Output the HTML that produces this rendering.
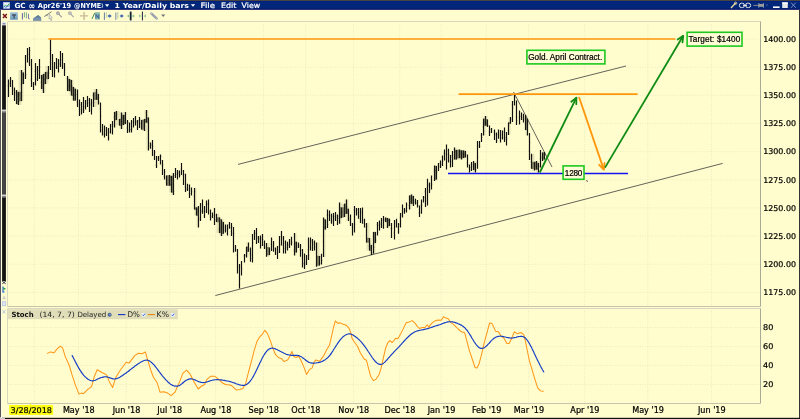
<!DOCTYPE html>
<html lang="en"><head><meta charset="utf-8"><title>GC Apr26'19 @NYME - 1 Year/Daily bars</title>
<style>html,body{margin:0;padding:0;background:#fffdcd;overflow:hidden}svg{display:block}.ax{font-family:"DejaVu Sans","Liberation Sans",sans-serif;font-size:7.9px;fill:#000;stroke:#000;stroke-width:0.22px}.tt{font-family:"DejaVu Sans","Liberation Sans",sans-serif;font-size:7px;font-weight:bold;fill:#fff}.mn{font-family:"DejaVu Sans","Liberation Sans",sans-serif;font-size:7.4px;fill:#fff;stroke:#fff;stroke-width:0.2px}.an{font-family:"Liberation Sans",sans-serif;font-size:8.2px;fill:#000;stroke:#000;stroke-width:0.22px}.st{font-family:"DejaVu Sans","Liberation Sans",sans-serif;font-size:7.2px;fill:#222}</style></head><body>
<svg width="800" height="419" viewBox="0 0 800 419">
<rect x="0" y="0" width="800" height="419" fill="#fffdcd"/>
<rect x="0" y="0" width="800" height="1" fill="#444"/>
<rect x="0" y="1" width="800" height="8" fill="#00277a"/><rect x="0" y="1" width="800" height="1" fill="#002080"/><rect x="0" y="8.8" width="800" height="1" fill="#000064"/>
<rect x="0" y="9.8" width="1" height="409.2" fill="#555"/>
<rect x="799" y="9.8" width="1" height="409.2" fill="#333"/>
<rect x="0" y="417" width="5" height="2" fill="#c8c8c8"/><rect x="5" y="417.8" width="795" height="1.2" fill="#111"/>
<g id="title">
<rect x="3.2" y="2.2" width="6.6" height="6.4" fill="#e8eef8"/><path d="M3.6 7.4 L5.4 5.2 L7 6.4 L9.4 3.4" stroke="#2a9a3a" stroke-width="0.9" fill="none"/><path d="M3.6 6 L5.6 7.4 L9.4 5.6" stroke="#3a6ad8" stroke-width="0.8" fill="none"/>
<text class="tt" x="14.4" y="8.2" textLength="11.3" lengthAdjust="spacingAndGlyphs">GC</text>
<text class="tt" x="28.6" y="9.1" textLength="6.6" lengthAdjust="spacingAndGlyphs" style="font-size:9.4px;font-weight:bold">∞</text>
<text class="tt" x="37.8" y="8.2" textLength="33.4" lengthAdjust="spacingAndGlyphs">Apr26'19</text>
<text class="tt" x="74" y="8.2" textLength="27.2" lengthAdjust="spacingAndGlyphs">@NYME</text>
<path d="M101.9 3.4 q1.6 2.2 0 4.6" stroke="#fff" stroke-width="0.8" fill="none"/>
<path d="M105 4.3 h4.2 l-2.1 2.6 z" fill="#fff"/>
<text class="tt" x="114.5" y="8.2" textLength="74.5" lengthAdjust="spacingAndGlyphs">1 Year/Daily bars</text>
<path d="M190.8 4.2 h4.4 l-2.2 2.6 z" fill="#fff"/>
<text class="mn" x="200.6" y="8.3" textLength="14.4" lengthAdjust="spacingAndGlyphs">File</text>
<text class="mn" x="221" y="8.3" textLength="15.4" lengthAdjust="spacingAndGlyphs">Edit</text>
<text class="mn" x="241.6" y="8.3" textLength="18.6" lengthAdjust="spacingAndGlyphs">View</text>
<path d="M731 8 L735.6 3" stroke="#f0dca0" stroke-width="1.3"/><circle cx="735.6" cy="3.2" r="1.2" fill="none" stroke="#f0dca0" stroke-width="0.8"/>
<rect x="739.4" y="3.2" width="5" height="4.4" rx="2.1" fill="none" stroke="#e8e8e8" stroke-width="1"/><rect x="745.6" y="3.2" width="5" height="4.4" rx="2.1" fill="none" stroke="#e8e8e8" stroke-width="1"/><path d="M743 5.4 h4" stroke="#e8e8e8" stroke-width="1"/>
<path d="M753.4 5.4 h5" stroke="#9a9684" stroke-width="0.9"/><path d="M758.8 3.2 v4.4 M763.4 3.2 v4.4" stroke="#b8b8b8" stroke-width="0.9"/><rect x="759" y="4" width="4.2" height="2.8" fill="#9c9c9c"/>
<path d="M766 4.8 h1.8 l-0.9 1 z" fill="#aab"/>
<rect x="773" y="6.4" width="6.6" height="1.6" fill="#fff"/>
<rect x="782.2" y="2.4" width="5.6" height="5.6" fill="#e8e8e8"/><rect x="782.2" y="2.4" width="5.6" height="1.4" fill="#fff"/>
<path d="M791 2.6 l4.8 5.2 M795.8 2.6 l-4.8 5.2" stroke="#9aa6d0" stroke-width="0.8"/>
</g>
<defs><linearGradient id="tg" x1="0" y1="0" x2="0" y2="1"><stop offset="0" stop-color="#a2c4de"/><stop offset="1" stop-color="#6c9abe"/></linearGradient><linearGradient id="mg" x1="0" y1="0" x2="0" y2="1"><stop offset="0" stop-color="#4f6a86"/><stop offset="1" stop-color="#86a4c0"/></linearGradient></defs>
<g id="toolbar">
<path d="M2.9 14 l3.9 4 M6.8 14 l-3.9 4" stroke="#7c1018" stroke-width="1.5"/>
<rect x="10.1" y="12.2" width="7.7" height="7.6" fill="url(#tg)"/><path d="M12 15 h4.1 M14.1 15 v3.6" stroke="#48525e" stroke-width="1.4"/>
<path d="M22.4 13.1 v6.4" stroke="#5050a0" stroke-width="0.9"/><path d="M24.4 12.2 v5.2 M26.4 12.4 v6" stroke="#66a080" stroke-width="0.9"/><path d="M28.5 13.9 v4.8 h1.2" stroke="#6a6ab0" stroke-width="0.9" fill="none"/>
<path d="M33 20.4 v-1.8 l2.8 -2 l2.4 -1.7 l3 2.6 v2.9 z" fill="url(#mg)"/><path d="M33 20.3 h8.3" stroke="#4a6078" stroke-width="0.6"/>
<path d="M44.2 16.6 l7.4 -4.9" stroke="#5a6068" stroke-width="0.8" fill="none"/><path d="M46.4 14.6 l1.2 1.6" stroke="#5a6068" stroke-width="0.7"/><path d="M49.2 14.2 l3 3.4 l-1.3 0.2 l0.9 2.4 l-0.9 0.4 l-1 -2.4 l-0.9 0.9 z" fill="#eeeeea" stroke="#8a8a88" stroke-width="0.5"/>
<circle cx="57.9" cy="13.2" r="1.6" fill="#b4b4b4" stroke="#9a9aa0" stroke-width="0.6"/><path d="M59 14.4 l2.5 2.5" stroke="#9a9aa4" stroke-width="1.2" stroke-linecap="round"/>
<circle cx="69.9" cy="13.2" r="1.6" fill="#c0c0bc" stroke="#aaaaac" stroke-width="0.6"/><path d="M71 14.4 l2.4 2.3" stroke="#aaaab0" stroke-width="1.2" stroke-linecap="round"/>
<path d="M80 15.9 h8.1 M84.1 12 v7.9" stroke="#c9b998" stroke-width="1.4"/>
<path d="M92 18.9 l2.8 -6" stroke="#3f8a52" stroke-width="1" fill="none"/><rect x="95" y="12.2" width="4.9" height="7.4" fill="#8cbcac"/><path d="M96 18.4 v-4 l2.8 4 v-4" stroke="#2c4c9c" stroke-width="0.8" fill="none"/>
<path d="M104.4 12.5 v7.4" stroke="#6878a4" stroke-width="1"/><path d="M106.3 12 v5.8" stroke="#8ab89a" stroke-width="0.6"/><path d="M107.4 16 l2.2 -1.8 l2.2 1.8 l-2.2 1.8 z" fill="#4a6cb4"/>
<path d="M115.8 12.5 v7.4" stroke="#7a88b0" stroke-width="1"/><path d="M117.8 12 v6.6" stroke="#8ab89a" stroke-width="0.7"/><path d="M119.6 16 l2.1 -1.8 l2.1 1.8 l-2.1 1.8 z" fill="#4a6cb4"/>
<path d="M126.8 16 l2.4 -1.8 v3.6 z M135 16 l-2.4 -1.8 v3.6 z" fill="#8cc08c"/><path d="M130.7 11.6 v8.8" stroke="#12223c" stroke-width="1.8"/>
<path d="M141.2 16 l-2.2 -1.8 v3.6 z M143.7 16 l2.2 -1.8 v3.6 z" fill="#9ac89a"/><path d="M142.4 11.6 v8.8" stroke="#12223c" stroke-width="1"/>
<path d="M151.2 13.4 l5.6 5.2" stroke="#9aa0ae" stroke-width="2.4" stroke-linecap="round"/><path d="M150.4 12.4 l1.4 1.4 M156.4 18.2 l1.2 1.2" stroke="#fffdcd" stroke-width="0.7"/>
<path d="M161 14.5 h4.4 l-2.2 2.6 z" fill="#77777e"/>
</g>
<g id="grid" stroke="#dedcbc" stroke-width="0.7" stroke-dasharray="0.8 1.7" fill="none">
<path d="M34.4 21.5 V306.5 M34.4 308.5 V403.5"/>
<path d="M78.5 21.5 V306.5 M78.5 308.5 V403.5"/>
<path d="M126.2 21.5 V306.5 M126.2 308.5 V403.5"/>
<path d="M169.5 21.5 V306.5 M169.5 308.5 V403.5"/>
<path d="M215.6 21.5 V306.5 M215.6 308.5 V403.5"/>
<path d="M263.5 21.5 V306.5 M263.5 308.5 V403.5"/>
<path d="M305.6 21.5 V306.5 M305.6 308.5 V403.5"/>
<path d="M353.5 21.5 V306.5 M353.5 308.5 V403.5"/>
<path d="M399.7 21.5 V306.5 M399.7 308.5 V403.5"/>
<path d="M441.2 21.5 V306.5 M441.2 308.5 V403.5"/>
<path d="M486.3 21.5 V306.5 M486.3 308.5 V403.5"/>
<path d="M528.6 21.5 V306.5 M528.6 308.5 V403.5"/>
<path d="M584.6 21.5 V306.5 M584.6 308.5 V403.5"/>
<path d="M647.8 21.5 V306.5 M647.8 308.5 V403.5"/>
<path d="M711.5 21.5 V306.5 M711.5 308.5 V403.5"/>
<path d="M7.5 292.4 H762.5"/>
<path d="M7.5 264.2 H762.5"/>
<path d="M7.5 236.1 H762.5"/>
<path d="M7.5 207.9 H762.5"/>
<path d="M7.5 179.8 H762.5"/>
<path d="M7.5 151.7 H762.5"/>
<path d="M7.5 123.5 H762.5"/>
<path d="M7.5 95.3 H762.5"/>
<path d="M7.5 67.2 H762.5"/>
<path d="M7.5 39.1 H762.5"/>
<path d="M7.5 384.5 H762.5"/>
<path d="M7.5 365.5 H762.5"/>
<path d="M7.5 346.5 H762.5"/>
<path d="M7.5 327.5 H762.5"/>
</g>
<g id="frames" stroke="#c2c2aa" stroke-width="1" fill="none">
<path d="M7.5 306.5 V21.5 H760.5" stroke="#d9d8bf"/>
<path d="M760.5 21.5 V306.5" stroke="#a9a998"/>
<path d="M7.5 306.5 H760.5" stroke="#c6c5ab"/>
<path d="M7.5 403.5 V308.5 H760.5" stroke="#d9d8bf"/>
<path d="M760.5 308.5 V403.5" stroke="#a9a998"/>
<path d="M7.5 403.5 H760.5" stroke="#c6c5ab"/>
</g>
<rect x="1" y="9.8" width="1" height="408" fill="#fffee2"/>
<rect x="2.1" y="25.2" width="3.8" height="256" fill="#141414"/>
<rect x="2.1" y="112.6" width="3.8" height="82" fill="#454545"/>
<rect x="2.1" y="109.7" width="3.8" height="3" fill="#8c8c8c"/><rect x="2.1" y="109.7" width="3.8" height="1.4" fill="#d4d4d4"/>
<rect x="2.1" y="194.6" width="3.8" height="3" fill="#8c8c8c"/><rect x="2.1" y="194.6" width="3.8" height="1.4" fill="#d4d4d4"/>
<rect x="2.2" y="21.8" width="3.6" height="3.4" fill="#dfe3ee"/><path d="M2.8 23 q1.2 1.4 2.4 0 v1.2 h-2.4 z" fill="#23366e"/>
<path d="M2.3 281.4 l3.4 2.4 M5.7 281.4 l-3.4 2.4" stroke="#2a3350" stroke-width="0.9"/>
<path d="M3 286.6 v5.6" stroke="#1f62d8" stroke-width="1.1"/><path d="M3.4 287.2 l2.6 1.5 l-2.6 1.5 z" fill="#23a04a"/><path d="M2.4 291.4 h2.2 v1 h-2.2 z" fill="#2a6ae0"/>
<path d="M2.2 299.2 h3.8 l-1.9 -3.9 z" fill="#cfcfc6"/>
<rect x="2.6" y="301.8" width="3.2" height="4" fill="#dfe4f4" stroke="#b4bfe4" stroke-width="0.7"/>
<path d="M2.6 310.2 l3 3.2 M5.6 310.2 l-3 3.2" stroke="#b0bce0" stroke-width="0.9"/>
<g id="ylabels">
<text class="ax" x="763.2" y="295.1" textLength="32.8" lengthAdjust="spacingAndGlyphs">1175.00</text>
<text class="ax" x="763.2" y="267.0" textLength="32.8" lengthAdjust="spacingAndGlyphs">1200.00</text>
<text class="ax" x="763.2" y="238.8" textLength="32.8" lengthAdjust="spacingAndGlyphs">1225.00</text>
<text class="ax" x="763.2" y="210.7" textLength="32.8" lengthAdjust="spacingAndGlyphs">1250.00</text>
<text class="ax" x="763.2" y="182.6" textLength="32.8" lengthAdjust="spacingAndGlyphs">1275.00</text>
<text class="ax" x="763.2" y="154.4" textLength="32.8" lengthAdjust="spacingAndGlyphs">1300.00</text>
<text class="ax" x="763.2" y="126.2" textLength="32.8" lengthAdjust="spacingAndGlyphs">1325.00</text>
<text class="ax" x="763.2" y="98.1" textLength="32.8" lengthAdjust="spacingAndGlyphs">1350.00</text>
<text class="ax" x="763.2" y="69.9" textLength="32.8" lengthAdjust="spacingAndGlyphs">1375.00</text>
<text class="ax" x="763.2" y="41.8" textLength="32.8" lengthAdjust="spacingAndGlyphs">1400.00</text>
<text class="ax" x="763" y="387.3" textLength="10.3" lengthAdjust="spacingAndGlyphs">20</text>
<text class="ax" x="763" y="368.3" textLength="10.3" lengthAdjust="spacingAndGlyphs">40</text>
<text class="ax" x="763" y="349.3" textLength="10.3" lengthAdjust="spacingAndGlyphs">60</text>
<text class="ax" x="763" y="330.3" textLength="10.3" lengthAdjust="spacingAndGlyphs">80</text>
</g>
<g id="xlabels">
<text class="ax" x="78.8" y="413.4" text-anchor="middle" style="font-size:8.1px">May '18</text>
<text class="ax" x="126.5" y="413.4" text-anchor="middle" style="font-size:8.1px">Jun '18</text>
<text class="ax" x="169.8" y="413.4" text-anchor="middle" style="font-size:8.1px">Jul '18</text>
<text class="ax" x="215.9" y="413.4" text-anchor="middle" style="font-size:8.1px">Aug '18</text>
<text class="ax" x="263.8" y="413.4" text-anchor="middle" style="font-size:8.1px">Sep '18</text>
<text class="ax" x="305.9" y="413.4" text-anchor="middle" style="font-size:8.1px">Oct '18</text>
<text class="ax" x="353.8" y="413.4" text-anchor="middle" style="font-size:8.1px">Nov '18</text>
<text class="ax" x="400.0" y="413.4" text-anchor="middle" style="font-size:8.1px">Dec '18</text>
<text class="ax" x="441.5" y="413.4" text-anchor="middle" style="font-size:8.1px">Jan '19</text>
<text class="ax" x="486.6" y="413.4" text-anchor="middle" style="font-size:8.1px">Feb '19</text>
<text class="ax" x="528.9" y="413.4" text-anchor="middle" style="font-size:8.1px">Mar '19</text>
<text class="ax" x="584.9" y="413.4" text-anchor="middle" style="font-size:8.1px">Apr '19</text>
<text class="ax" x="648.1" y="413.4" text-anchor="middle" style="font-size:8.1px">May '19</text>
<text class="ax" x="711.8" y="413.4" text-anchor="middle" style="font-size:8.1px">Jun '19</text>
<rect x="9.2" y="405.1" width="43.9" height="9.8" rx="0.8" fill="#ffff14"/>
<path d="M29 405.6 l1.6 -1.8 l1.6 1.8 z" fill="#ffff1e"/>
<text class="ax" x="10.6" y="413.4" textLength="41.4" lengthAdjust="spacingAndGlyphs">3/28/2018</text>
</g>
<rect x="8" y="309.2" width="169.8" height="10" fill="#e0deb8"/>
<text class="st" x="11.4" y="317.4" textLength="22.2" lengthAdjust="spacingAndGlyphs" style="font-weight:bold;fill:#111">Stoch</text>
<text class="st" x="39.4" y="317.4" textLength="35.4" lengthAdjust="spacingAndGlyphs">(14, 7, 7)</text>
<text class="st" x="77.4" y="317.4" textLength="28.8" lengthAdjust="spacingAndGlyphs">Delayed</text>
<circle cx="109.6" cy="314.8" r="1.7" fill="#4f74b4" stroke="#2a3a66" stroke-width="0.5"/><circle cx="110" cy="314.3" r="0.6" fill="#a8c4ec"/>
<path d="M118 314.6 h7.4" stroke="#1432c4" stroke-width="1.1"/>
<text class="st" x="127.4" y="317.4" textLength="12.4" lengthAdjust="spacingAndGlyphs" style="font-size:7.8px">D%</text>
<rect x="141.8" y="313" width="3.6" height="3.6" fill="#eef2fb"/><path d="M142.4 314.8 l1 1 l1.6 -2.2" stroke="#1f55d8" stroke-width="0.9" fill="none"/>
<path d="M147.8 314.6 h7.2" stroke="#e8860a" stroke-width="1.1"/>
<text class="st" x="156.6" y="317.4" textLength="12.4" lengthAdjust="spacingAndGlyphs" style="font-size:7.8px">K%</text>
<rect x="171" y="313" width="3.6" height="3.6" fill="#eef2fb"/><path d="M171.6 314.8 l1 1 l1.6 -2.2" stroke="#1f55d8" stroke-width="0.9" fill="none"/>
<g stroke="#3c3c3c" stroke-width="0.8" fill="none">
<path d="M215.4 295.5 L722.6 163.4"/>
<path d="M238 164.4 L626 66"/>
<path d="M513.6 92 L552 167"/>
<path d="M586 180.6 l2 0.8"/>
</g>
<g id="bars" stroke="#101010" stroke-width="1.18" fill="none">
<path d="M8.5 79.4V97.0M10.5 77.0V87.0M12.5 80.0V95.0M14.5 87.5V101.0M16.5 90.0V104.0M18.5 92.0V105.0M21.5 70.0V101.0M23.5 72.5V84.0M25.5 55.0V79.0M27.5 48.0V62.5M29.5 47.0V66.0M31.5 59.0V87.0M33.5 82.0V90.0M35.5 63.0V85.6M37.5 66.0V81.0M39.5 59.0V79.0M41.5 75.0V89.0M43.5 74.0V93.0M45.5 72.0V84.0M48.5 66.0V79.0M50.5 39.4V70.0M52.5 54.0V77.0M54.5 62.0V77.5M56.5 58.0V69.0M58.5 59.0V72.5M60.5 51.0V67.0M62.5 53.0V69.0M64.5 63.0V76.0M67.5 76.0V91.0M69.5 79.0V91.0M71.5 80.0V95.6M73.5 87.0V100.6M75.5 88.7V100.6M77.5 89.4V107.0M79.5 99.4V116.0M81.5 102.0V114.4M83.5 97.0V113.0M85.5 100.0V109.4M87.5 96.0V107.0M89.5 98.0V112.0M91.5 99.0V114.4M93.5 92.5V107.0M96.5 89.0V99.7M98.5 94.0V104.4M100.5 102.5V132.5M102.5 124.0V135.6M104.5 125.6V137.5M106.5 127.0V136.0M108.5 128.0V140.6M110.5 124.0V133.5M112.5 121.0V134.4M114.5 112.0V127.5M116.5 111.0V120.0M119.5 119.0V125.6M121.5 112.5V129.0M123.5 115.0V125.0M125.5 112.0V124.0M127.5 120.0V133.0M129.5 122.5V132.5M131.5 120.0V132.5M133.5 118.0V127.5M135.5 116.0V125.6M137.5 120.0V130.0M139.5 117.0V128.0M141.5 120.0V129.4M144.5 119.0V131.0M146.5 110.0V122.5M148.5 117.5V150.6M150.5 142.5V148.7M152.5 140.0V156.0M154.5 150.0V160.0M156.5 156.0V168.0M158.5 156.0V161.0M160.5 154.4V164.4M162.5 160.0V175.0M164.5 169.0V179.4M166.5 175.6V185.6M169.5 175.0V185.6M171.5 176.0V192.5M173.5 173.0V195.0M175.5 168.0V178.0M177.5 170.0V179.4M179.5 170.6V177.5M181.5 163.0V175.0M183.5 170.0V185.0M185.5 173.7V192.0M187.5 183.7V191.0M189.5 184.4V198.0M191.5 187.5V195.6M194.5 188.0V209.4M196.5 207.5V215.6M198.5 206.0V227.5M200.5 203.0V221.0M202.5 199.4V213.7M204.5 206.0V218.0M206.5 200.6V213.0M208.5 199.4V214.4M210.5 209.4V220.6M212.5 212.5V218.0M214.5 208.0V225.0M216.5 213.7V222.0M219.5 217.5V233.0M221.5 219.4V236.0M223.5 222.0V233.7M225.5 224.4V232.5M227.5 224.4V235.6M229.5 222.0V228.7M231.5 223.0V236.0M233.5 227.0V252.4M235.5 245.0V251.7M237.5 249.0V273.6M239.5 264.0V288.6M241.5 261.0V275.5M244.5 254.0V262.4M246.5 246.7V257.4M248.5 242.4V251.7M250.5 247.4V261.7M252.5 234.0V262.4M254.5 230.0V240.0M256.5 228.0V244.0M258.5 236.0V243.0M260.5 235.5V248.6M262.5 234.0V246.0M264.5 240.5V249.0M266.5 243.0V256.7M269.5 247.4V255.0M271.5 237.4V251.0M273.5 241.0V251.7M275.5 247.4V255.0M277.5 246.0V259.0M279.5 236.0V253.0M281.5 231.0V245.5M283.5 236.0V253.6M285.5 240.5V253.6M287.5 241.7V250.5M289.5 239.0V248.0M291.5 236.7V245.5M294.5 233.0V255.5M296.5 241.7V252.4M298.5 242.4V248.0M300.5 244.0V256.7M302.5 249.0V267.4M304.5 253.6V269.0M306.5 255.0V265.0M308.5 237.4V260.0M310.5 237.4V250.5M312.5 239.0V251.0M314.5 240.5V250.5M316.5 242.4V266.7M319.5 256.0V265.5M321.5 253.7V264.4M323.5 217.5V257.0M325.5 219.4V229.4M327.5 209.4V228.0M329.5 210.6V221.0M331.5 213.7V223.7M333.5 213.0V226.0M335.5 212.0V221.0M337.5 214.4V225.0M339.5 202.5V223.7M341.5 207.5V218.0M344.5 203.7V217.0M346.5 199.4V213.7M348.5 208.7V221.0M350.5 214.4V226.0M352.5 223.0V235.6M354.5 206.0V232.5M356.5 208.0V215.6M358.5 208.0V218.7M360.5 208.0V223.0M362.5 207.5V223.7M364.5 218.7V227.5M366.5 223.0V242.5M369.5 238.0V250.6M371.5 245.0V255.0M373.5 232.0V253.7M375.5 232.0V243.0M377.5 222.0V235.6M379.5 220.6V230.6M381.5 218.0V228.0M383.5 216.0V228.7M385.5 217.5V222.0M387.5 218.0V228.0M389.5 218.7V226.0M391.5 223.0V238.0M394.5 220.0V239.4M396.5 218.7V227.5M398.5 223.0V233.7M400.5 213.0V227.5M402.5 204.4V217.5M404.5 208.0V213.7M406.5 202.5V212.5M409.5 195.6V209.4M411.5 194.4V203.7M413.5 196.0V206.0M415.5 198.7V204.4M417.5 200.0V207.5M419.5 205.6V217.0M421.5 199.4V213.7M423.5 196.0V202.5M425.5 188.0V207.0M427.5 178.7V205.6M429.5 182.5V193.0M431.5 175.6V189.4M434.5 165.6V181.0M436.5 166.0V179.4M438.5 163.0V171.0M440.5 160.6V168.0M442.5 155.6V166.0M444.5 149.4V160.6M446.5 144.4V169.4M448.5 148.7V162.5M450.5 155.0V167.5M452.5 151.0V167.0M454.5 147.5V159.4M456.5 150.0V159.4M459.5 149.4V158.0M461.5 150.6V159.4M463.5 150.6V158.0M465.5 151.0V157.5M467.5 154.4V167.5M469.5 164.4V172.5M471.5 162.0V171.0M473.5 161.0V170.0M475.5 163.0V172.5M477.5 141.0V168.7M479.5 141.0V148.0M481.5 133.0V142.0M483.5 118.7V135.6M485.5 116.0V125.6M487.5 119.4V127.0M489.5 125.6V136.0M491.5 128.0V133.0M494.5 129.4V140.0M496.5 132.5V143.0M498.5 129.4V138.7M500.5 130.0V142.5M502.5 130.6V139.4M504.5 127.5V142.0M506.5 132.0V145.6M508.5 122.5V135.0M510.5 117.0V123.7M512.5 101.0V122.0M514.5 94.0V105.6M516.5 100.6V125.0M519.5 110.6V124.4M521.5 112.5V120.0M523.5 113.7V122.5M525.5 115.0V130.0M527.5 118.7V135.6M529.5 133.0V160.0M531.5 153.7V168.7M534.5 162.0V170.6M536.5 161.0V169.4M538.5 163.0V172.5M540.5 150.0V167.5M542.5 152.5V161.0M544.5 152.0V159.4"/>
</g>
<path d="M16.5 90.0H18.5V105.0H16.5ZM18.5 70.0H21.5V105.0H18.5ZM21.5 70.0H23.5V101.0H21.5ZM41.5 74.0H43.5V93.0H41.5ZM43.5 72.0H45.5V93.0H43.5ZM45.5 66.0H48.5V84.0H45.5ZM67.5 76.0H69.5V91.0H67.5ZM69.5 79.0H71.5V95.6H69.5ZM71.5 80.0H73.5V100.6H71.5ZM73.5 87.0H75.5V100.6H73.5ZM93.5 89.0H96.5V107.0H93.5ZM96.5 89.0H98.5V104.4H96.5ZM114.5 111.0H116.5V127.5H114.5ZM116.5 111.0H119.5V125.6H116.5ZM119.5 112.5H121.5V129.0H119.5ZM121.5 112.5H123.5V129.0H121.5ZM123.5 112.0H125.5V125.0H123.5ZM141.5 119.0H144.5V131.0H141.5ZM144.5 110.0H146.5V131.0H144.5ZM146.5 110.0H148.5V150.6H146.5ZM166.5 175.0H169.5V185.6H166.5ZM169.5 175.0H171.5V192.5H169.5ZM171.5 173.0H173.5V195.0H171.5ZM194.5 188.0H196.5V215.6H194.5ZM196.5 206.0H198.5V227.5H196.5ZM216.5 213.7H219.5V233.0H216.5ZM219.5 217.5H221.5V236.0H219.5ZM221.5 219.4H223.5V236.0H221.5ZM246.5 242.4H248.5V257.4H246.5ZM266.5 243.0H269.5V256.7H266.5ZM294.5 233.0H296.5V255.5H294.5ZM316.5 242.4H319.5V266.7H316.5ZM323.5 217.5H325.5V257.0H323.5ZM339.5 202.5H341.5V223.7H339.5ZM341.5 203.7H344.5V218.0H341.5ZM344.5 199.4H346.5V217.0H344.5ZM346.5 199.4H348.5V221.0H346.5ZM366.5 223.0H369.5V250.6H366.5ZM369.5 238.0H371.5V255.0H369.5ZM373.5 232.0H375.5V253.7H373.5ZM385.5 217.5H387.5V228.0H385.5ZM387.5 218.0H389.5V228.0H387.5ZM409.5 194.4H411.5V209.4H409.5ZM411.5 194.4H413.5V206.0H411.5ZM434.5 165.6H436.5V181.0H434.5ZM454.5 147.5H456.5V159.4H454.5ZM456.5 149.4H459.5V159.4H456.5ZM459.5 149.4H461.5V159.4H459.5ZM461.5 150.6H463.5V159.4H461.5ZM463.5 150.6H465.5V158.0H463.5ZM473.5 161.0H475.5V172.5H473.5ZM483.5 116.0H485.5V135.6H483.5ZM485.5 116.0H487.5V127.0H485.5ZM508.5 117.0H510.5V135.0H508.5ZM525.5 115.0H527.5V135.6H525.5ZM531.5 153.7H534.5V170.6H531.5ZM534.5 161.0H536.5V170.6H534.5ZM536.5 161.0H538.5V172.5H536.5ZM542.5 152.0H544.5V161.0H542.5Z" fill="#26261a" opacity="0.12" stroke="none"/>
<path d="M16.5 91.7H18.5V104.3H16.5ZM18.5 91.7H21.5V101.3H18.5ZM21.5 72.2H23.5V84.3H21.5ZM41.5 74.7H43.5V89.3H41.5ZM43.5 73.7H45.5V84.3H43.5ZM45.5 71.7H48.5V79.3H45.5ZM67.5 78.7H69.5V91.3H67.5ZM69.5 79.7H71.5V91.3H69.5ZM71.5 86.7H73.5V95.9H71.5ZM73.5 88.4H75.5V100.9H73.5ZM93.5 92.2H96.5V100.0H93.5ZM96.5 93.7H98.5V100.0H96.5ZM114.5 111.7H116.5V120.3H114.5ZM119.5 118.7H121.5V125.9H119.5ZM121.5 114.7H123.5V125.3H121.5ZM123.5 114.7H125.5V124.3H123.5ZM141.5 119.7H144.5V129.7H141.5ZM144.5 118.7H146.5V122.8H144.5ZM146.5 117.2H148.5V122.8H146.5ZM166.5 175.3H169.5V185.9H166.5ZM169.5 175.7H171.5V185.9H169.5ZM171.5 175.7H173.5V192.8H171.5ZM194.5 207.2H196.5V209.7H194.5ZM196.5 207.2H198.5V215.9H196.5ZM216.5 217.2H219.5V222.3H216.5ZM219.5 219.1H221.5V233.3H219.5ZM221.5 221.7H223.5V234.0H221.5ZM246.5 246.4H248.5V252.0H246.5ZM266.5 247.1H269.5V255.3H266.5ZM294.5 241.4H296.5V252.7H294.5ZM316.5 255.7H319.5V265.8H316.5ZM323.5 219.1H325.5V229.7H323.5ZM339.5 207.2H341.5V218.3H339.5ZM341.5 207.2H344.5V217.3H341.5ZM344.5 203.4H346.5V214.0H344.5ZM346.5 208.4H348.5V214.0H346.5ZM366.5 237.7H369.5V242.8H366.5ZM369.5 244.7H371.5V250.9H369.5ZM373.5 231.7H375.5V243.3H373.5ZM385.5 217.7H387.5V222.3H385.5ZM387.5 218.4H389.5V226.3H387.5ZM409.5 195.3H411.5V204.0H409.5ZM411.5 195.7H413.5V204.0H411.5ZM434.5 165.7H436.5V179.7H434.5ZM454.5 149.7H456.5V159.7H454.5ZM456.5 149.7H459.5V158.3H456.5ZM459.5 150.3H461.5V158.3H459.5ZM461.5 150.3H463.5V158.3H461.5ZM463.5 150.7H465.5V157.8H463.5ZM473.5 162.7H475.5V170.3H473.5ZM483.5 118.4H485.5V125.9H483.5ZM485.5 119.1H487.5V125.9H485.5ZM508.5 122.2H510.5V124.0H508.5ZM525.5 118.4H527.5V130.3H525.5ZM531.5 161.7H534.5V169.0H531.5ZM534.5 161.7H536.5V169.7H534.5ZM536.5 162.7H538.5V169.7H536.5ZM542.5 152.2H544.5V159.7H542.5Z" fill="#26261a" opacity="0.5" stroke="none"/>
<path d="M8.5 86.0h-1.2M8.5 83.9h1.2M10.5 83.1h-1.2M10.5 79.0h1.2M12.5 87.9h-1.2M12.5 86.1h1.2M14.5 90.1h-1.2M14.5 94.3h1.2M16.5 92.5h-1.2M16.5 96.3h1.2M18.5 94.6h-1.2M18.5 94.8h1.2M21.5 83.9h-1.2M21.5 92.6h1.2M23.5 75.2h-1.2M23.5 76.0h1.2M25.5 69.1h-1.2M25.5 74.5h1.2M27.5 56.0h-1.2M27.5 54.2h1.2M29.5 62.8h-1.2M29.5 50.5h1.2M31.5 80.0h-1.2M31.5 68.9h1.2M33.5 84.0h-1.2M33.5 83.9h1.2M35.5 71.3h-1.2M35.5 79.3h1.2M37.5 70.1h-1.2M37.5 74.4h1.2M39.5 70.9h-1.2M39.5 67.2h1.2M41.5 82.5h-1.2M41.5 77.7h1.2M43.5 77.6h-1.2M43.5 79.6h1.2M45.5 79.5h-1.2M45.5 77.4h1.2M48.5 70.8h-1.2M48.5 73.3h1.2M50.5 53.7h-1.2M50.5 50.4h1.2M52.5 70.2h-1.2M52.5 68.7h1.2M54.5 67.0h-1.2M54.5 70.6h1.2M56.5 63.7h-1.2M56.5 66.4h1.2M58.5 67.9h-1.2M58.5 63.7h1.2M60.5 64.4h-1.2M60.5 54.7h1.2M62.5 60.1h-1.2M62.5 63.9h1.2M64.5 66.3h-1.2M64.5 69.4h1.2M67.5 78.7h-1.2M67.5 85.3h1.2M69.5 87.2h-1.2M69.5 85.6h1.2M71.5 91.9h-1.2M71.5 85.8h1.2M73.5 95.7h-1.2M73.5 94.7h1.2M75.5 95.3h-1.2M75.5 94.3h1.2M77.5 102.4h-1.2M77.5 103.7h1.2M79.5 107.4h-1.2M79.5 109.6h1.2M81.5 104.4h-1.2M81.5 109.9h1.2M83.5 106.6h-1.2M83.5 110.5h1.2M85.5 106.8h-1.2M85.5 103.3h1.2M87.5 100.6h-1.2M87.5 102.8h1.2M89.5 100.3h-1.2M89.5 104.6h1.2M91.5 103.1h-1.2M91.5 102.6h1.2M93.5 95.3h-1.2M93.5 102.5h1.2M96.5 91.6h-1.2M96.5 92.5h1.2M98.5 98.4h-1.2M98.5 101.9h1.2M100.5 108.7h-1.2M100.5 116.4h1.2M102.5 130.2h-1.2M102.5 132.9h1.2M104.5 134.2h-1.2M104.5 134.6h1.2M106.5 130.1h-1.2M106.5 131.0h1.2M108.5 133.1h-1.2M108.5 137.7h1.2M110.5 131.8h-1.2M110.5 126.4h1.2M112.5 124.7h-1.2M112.5 125.2h1.2M114.5 116.9h-1.2M114.5 119.6h1.2M116.5 116.1h-1.2M116.5 114.0h1.2M119.5 120.0h-1.2M119.5 121.9h1.2M121.5 119.2h-1.2M121.5 121.5h1.2M123.5 123.2h-1.2M123.5 121.3h1.2M125.5 118.1h-1.2M125.5 119.0h1.2M127.5 128.1h-1.2M127.5 122.4h1.2M129.5 130.3h-1.2M129.5 129.5h1.2M131.5 129.5h-1.2M131.5 128.9h1.2M133.5 122.0h-1.2M133.5 122.1h1.2M135.5 118.1h-1.2M135.5 121.7h1.2M137.5 121.9h-1.2M137.5 122.0h1.2M139.5 120.3h-1.2M139.5 119.9h1.2M141.5 123.6h-1.2M141.5 121.8h1.2M144.5 120.8h-1.2M144.5 122.1h1.2M146.5 112.8h-1.2M146.5 115.1h1.2M148.5 123.1h-1.2M148.5 142.7h1.2M150.5 146.1h-1.2M150.5 144.1h1.2M152.5 145.2h-1.2M152.5 146.3h1.2M154.5 154.0h-1.2M154.5 152.4h1.2M156.5 164.9h-1.2M156.5 166.1h1.2M158.5 158.4h-1.2M158.5 158.4h1.2M160.5 156.5h-1.2M160.5 156.6h1.2M162.5 165.8h-1.2M162.5 165.0h1.2M164.5 176.6h-1.2M164.5 171.7h1.2M166.5 177.3h-1.2M166.5 183.8h1.2M169.5 180.5h-1.2M169.5 177.7h1.2M171.5 184.7h-1.2M171.5 178.8h1.2M173.5 184.4h-1.2M173.5 191.4h1.2M175.5 175.5h-1.2M175.5 174.4h1.2M177.5 173.1h-1.2M177.5 173.8h1.2M179.5 172.4h-1.2M179.5 175.4h1.2M181.5 169.3h-1.2M181.5 171.3h1.2M183.5 175.7h-1.2M183.5 174.6h1.2M185.5 186.8h-1.2M185.5 189.1h1.2M187.5 189.2h-1.2M187.5 188.9h1.2M189.5 194.2h-1.2M189.5 193.5h1.2M191.5 190.0h-1.2M191.5 191.7h1.2M194.5 196.5h-1.2M194.5 191.6h1.2M196.5 208.9h-1.2M196.5 210.3h1.2M198.5 213.1h-1.2M198.5 219.6h1.2M200.5 217.8h-1.2M200.5 211.3h1.2M202.5 210.9h-1.2M202.5 211.4h1.2M204.5 215.8h-1.2M204.5 210.9h1.2M206.5 204.4h-1.2M206.5 204.4h1.2M208.5 203.7h-1.2M208.5 203.8h1.2M210.5 216.0h-1.2M210.5 218.1h1.2M212.5 216.6h-1.2M212.5 215.2h1.2M214.5 218.3h-1.2M214.5 220.1h1.2M216.5 215.4h-1.2M216.5 218.8h1.2M219.5 229.7h-1.2M219.5 228.3h1.2M221.5 230.6h-1.2M221.5 227.4h1.2M223.5 225.2h-1.2M223.5 230.2h1.2M225.5 227.5h-1.2M225.5 230.2h1.2M227.5 233.7h-1.2M227.5 229.2h1.2M229.5 224.9h-1.2M229.5 227.4h1.2M231.5 231.5h-1.2M231.5 226.5h1.2M233.5 233.1h-1.2M233.5 233.5h1.2M235.5 250.2h-1.2M235.5 249.8h1.2M237.5 255.2h-1.2M237.5 266.9h1.2M239.5 284.6h-1.2M239.5 279.0h1.2M241.5 266.7h-1.2M241.5 268.7h1.2M244.5 256.0h-1.2M244.5 255.3h1.2M246.5 255.6h-1.2M246.5 253.2h1.2M248.5 247.2h-1.2M248.5 249.9h1.2M250.5 253.9h-1.2M250.5 258.3h1.2M252.5 254.7h-1.2M252.5 242.5h1.2M254.5 233.3h-1.2M254.5 233.6h1.2M256.5 233.1h-1.2M256.5 237.0h1.2M258.5 238.3h-1.2M258.5 239.1h1.2M260.5 238.7h-1.2M260.5 245.8h1.2M262.5 238.8h-1.2M262.5 239.6h1.2M264.5 245.2h-1.2M264.5 247.2h1.2M266.5 249.1h-1.2M266.5 253.9h1.2M269.5 251.2h-1.2M269.5 251.4h1.2M271.5 244.4h-1.2M271.5 239.6h1.2M273.5 245.9h-1.2M273.5 244.0h1.2M275.5 248.6h-1.2M275.5 252.8h1.2M277.5 249.5h-1.2M277.5 252.3h1.2M279.5 247.2h-1.2M279.5 245.2h1.2M281.5 236.5h-1.2M281.5 238.4h1.2M283.5 245.5h-1.2M283.5 248.3h1.2M285.5 243.4h-1.2M285.5 247.6h1.2M287.5 244.6h-1.2M287.5 244.7h1.2M289.5 245.2h-1.2M289.5 243.5h1.2M291.5 241.5h-1.2M291.5 242.7h1.2M294.5 250.7h-1.2M294.5 243.4h1.2M296.5 247.9h-1.2M296.5 247.1h1.2M298.5 245.2h-1.2M298.5 246.0h1.2M300.5 249.9h-1.2M300.5 250.6h1.2M302.5 257.9h-1.2M302.5 263.9h1.2M304.5 263.4h-1.2M304.5 265.4h1.2M306.5 263.1h-1.2M306.5 258.3h1.2M308.5 249.6h-1.2M308.5 255.7h1.2M310.5 247.1h-1.2M310.5 240.6h1.2M312.5 241.8h-1.2M312.5 244.5h1.2M314.5 242.5h-1.2M314.5 243.7h1.2M316.5 247.3h-1.2M316.5 257.4h1.2M319.5 262.6h-1.2M319.5 263.4h1.2M321.5 256.5h-1.2M321.5 260.7h1.2M323.5 241.7h-1.2M323.5 227.4h1.2M325.5 227.1h-1.2M325.5 227.7h1.2M327.5 215.0h-1.2M327.5 224.6h1.2M329.5 215.1h-1.2M329.5 215.7h1.2M331.5 222.1h-1.2M331.5 221.0h1.2M333.5 216.4h-1.2M333.5 218.9h1.2M335.5 216.6h-1.2M335.5 215.5h1.2M337.5 217.4h-1.2M337.5 218.4h1.2M339.5 216.4h-1.2M339.5 206.0h1.2M341.5 213.1h-1.2M341.5 212.3h1.2M344.5 205.9h-1.2M344.5 208.8h1.2M346.5 207.8h-1.2M346.5 206.7h1.2M348.5 211.1h-1.2M348.5 219.0h1.2M350.5 222.5h-1.2M350.5 224.0h1.2M352.5 225.8h-1.2M352.5 227.2h1.2M354.5 210.7h-1.2M354.5 224.4h1.2M356.5 210.6h-1.2M356.5 209.8h1.2M358.5 212.8h-1.2M358.5 216.4h1.2M360.5 218.8h-1.2M360.5 213.0h1.2M362.5 211.6h-1.2M362.5 220.4h1.2M364.5 223.5h-1.2M364.5 224.3h1.2M366.5 227.1h-1.2M366.5 226.7h1.2M369.5 246.0h-1.2M369.5 243.6h1.2M371.5 247.0h-1.2M371.5 253.1h1.2M373.5 244.9h-1.2M373.5 247.4h1.2M375.5 234.3h-1.2M375.5 240.2h1.2M377.5 224.7h-1.2M377.5 232.3h1.2M379.5 225.3h-1.2M379.5 224.5h1.2M381.5 223.4h-1.2M381.5 226.0h1.2M383.5 220.3h-1.2M383.5 219.1h1.2M385.5 219.8h-1.2M385.5 218.9h1.2M387.5 220.3h-1.2M387.5 220.6h1.2M389.5 220.1h-1.2M389.5 220.8h1.2M391.5 228.5h-1.2M391.5 228.5h1.2M394.5 233.2h-1.2M394.5 226.8h1.2M396.5 223.1h-1.2M396.5 221.1h1.2M398.5 227.2h-1.2M398.5 224.7h1.2M400.5 217.7h-1.2M400.5 215.3h1.2M402.5 213.1h-1.2M402.5 211.4h1.2M404.5 209.6h-1.2M404.5 210.7h1.2M406.5 210.5h-1.2M406.5 204.7h1.2M409.5 205.6h-1.2M409.5 201.8h1.2M411.5 199.0h-1.2M411.5 201.2h1.2M413.5 200.3h-1.2M413.5 201.0h1.2M415.5 202.3h-1.2M415.5 203.5h1.2M417.5 202.9h-1.2M417.5 205.5h1.2M419.5 212.9h-1.2M419.5 212.4h1.2M421.5 205.6h-1.2M421.5 205.0h1.2M423.5 197.2h-1.2M423.5 197.6h1.2M425.5 191.8h-1.2M425.5 200.7h1.2M427.5 187.5h-1.2M427.5 185.8h1.2M429.5 184.7h-1.2M429.5 190.3h1.2M431.5 186.1h-1.2M431.5 184.1h1.2M434.5 170.9h-1.2M434.5 170.5h1.2M436.5 170.8h-1.2M436.5 172.3h1.2M438.5 165.1h-1.2M438.5 166.7h1.2M440.5 163.1h-1.2M440.5 166.7h1.2M442.5 164.2h-1.2M442.5 161.1h1.2M444.5 153.0h-1.2M444.5 158.7h1.2M446.5 153.6h-1.2M446.5 154.4h1.2M448.5 150.8h-1.2M448.5 154.5h1.2M450.5 161.0h-1.2M450.5 161.3h1.2M452.5 155.7h-1.2M452.5 159.1h1.2M454.5 149.3h-1.2M454.5 151.5h1.2M456.5 152.0h-1.2M456.5 154.0h1.2M459.5 150.9h-1.2M459.5 150.8h1.2M461.5 153.8h-1.2M461.5 153.4h1.2M463.5 154.7h-1.2M463.5 154.5h1.2M465.5 155.4h-1.2M465.5 155.0h1.2M467.5 162.9h-1.2M467.5 164.4h1.2M469.5 167.8h-1.2M469.5 167.5h1.2M471.5 169.6h-1.2M471.5 164.3h1.2M473.5 166.9h-1.2M473.5 166.4h1.2M475.5 164.7h-1.2M475.5 170.0h1.2M477.5 162.4h-1.2M477.5 157.3h1.2M479.5 145.6h-1.2M479.5 146.0h1.2M481.5 135.2h-1.2M481.5 137.6h1.2M483.5 127.2h-1.2M483.5 131.1h1.2M485.5 122.8h-1.2M485.5 123.0h1.2M487.5 123.6h-1.2M487.5 125.3h1.2M489.5 132.1h-1.2M489.5 132.2h1.2M491.5 129.6h-1.2M491.5 128.9h1.2M494.5 132.0h-1.2M494.5 133.7h1.2M496.5 134.8h-1.2M496.5 140.2h1.2M498.5 134.4h-1.2M498.5 134.9h1.2M500.5 137.4h-1.2M500.5 137.8h1.2M502.5 134.9h-1.2M502.5 131.9h1.2M504.5 137.8h-1.2M504.5 137.3h1.2M506.5 138.8h-1.2M506.5 139.1h1.2M508.5 130.1h-1.2M508.5 125.0h1.2M510.5 121.5h-1.2M510.5 119.2h1.2M512.5 105.2h-1.2M512.5 108.1h1.2M514.5 101.7h-1.2M514.5 97.4h1.2M516.5 116.9h-1.2M516.5 120.9h1.2M519.5 117.4h-1.2M519.5 116.4h1.2M521.5 116.1h-1.2M521.5 117.2h1.2M523.5 119.7h-1.2M523.5 118.8h1.2M525.5 124.0h-1.2M525.5 118.1h1.2M527.5 123.0h-1.2M527.5 124.2h1.2M529.5 151.1h-1.2M529.5 142.8h1.2M531.5 161.9h-1.2M531.5 156.1h1.2M534.5 163.7h-1.2M534.5 164.9h1.2M536.5 166.2h-1.2M536.5 166.3h1.2M538.5 168.9h-1.2M538.5 166.4h1.2M540.5 159.0h-1.2M540.5 158.3h1.2M542.5 156.5h-1.2M542.5 154.5h1.2M544.5 157.7h-1.2M544.5 154.1h1.2" stroke="#161616" stroke-width="0.9" opacity="0.22" fill="none"/>
<path d="M48.4 39 H675.4" stroke="#ff960a" stroke-width="1.7"/>
<path d="M458.6 94.2 H637.6" stroke="#ff960a" stroke-width="1.7"/>
<path d="M448 173.5 H628" stroke="#1414f0" stroke-width="1.7"/>
<path d="M539.8 172.5 L576.4 97.6" stroke="#0f8c14" stroke-width="1.80" fill="none"/><path d="M576.3 104.2 L576.4 97.6 L571.3 101.7" stroke="#0f8c14" stroke-width="1.80" fill="none" stroke-linejoin="round" stroke-linecap="round"/>
<path d="M579.0 97.0 L603.8 169.6" stroke="#ff960a" stroke-width="1.80" fill="none"/><path d="M599.2 164.8 L603.8 169.6 L604.5 163.0" stroke="#ff960a" stroke-width="1.80" fill="none" stroke-linejoin="round" stroke-linecap="round"/>
<path d="M605.0 167.6 L683.2 35.8" stroke="#0f8c14" stroke-width="1.80" fill="none"/><path d="M682.5 42.4 L683.2 35.8 L677.7 39.5" stroke="#0f8c14" stroke-width="1.80" fill="none" stroke-linejoin="round" stroke-linecap="round"/>
<rect x="526.9" y="50.3" width="78.0" height="13.6" fill="#fffdd6" stroke="#1fc81f" stroke-width="1.6"/>
<text class="an" x="528.2" y="60.2" textLength="74.0" lengthAdjust="spacing">Gold. April Contract.</text>
<rect x="687.1" y="32.3" width="54.9" height="13.8" fill="#fffdd6" stroke="#1fc81f" stroke-width="1.6"/>
<text class="an" x="688.6" y="42.2" textLength="51.6" lengthAdjust="spacing">Target: $1400</text>
<rect x="563.1" y="165.9" width="20.9" height="13.4" fill="#fffdd6" stroke="#1fc81f" stroke-width="1.6"/>
<text class="an" x="564.8" y="175.8" textLength="17.6" lengthAdjust="spacing">1280</text>
<polyline points="47.5,353.4 50.3,351.9 54.1,352.8 56.9,349.1 60.2,346.2 62.5,347.6 65.3,356.6 69.1,365.0 71.9,374.4 75.6,385.6 79.0,394.1 81.2,393.1 83.5,393.7 87.8,389.4 91.6,386.6 94.4,376.2 97.2,369.7 101.9,372.5 106.6,374.9 109.4,381.9 112.6,387.5 115.9,377.2 120.6,369.7 126.2,362.2 129.1,363.1 134.7,355.6 138.4,353.2 142.2,353.8 145.4,351.9 147.8,360.3 150.6,369.7 153.4,377.2 157.2,382.8 160.0,392.2 163.8,391.8 167.5,393.1 171.2,395.6 175.0,392.2 177.8,385.6 180.0,380.9 182.8,373.4 186.6,370.2 190.3,374.4 194.1,381.9 198.2,389.0 201.6,386.0 204.4,384.7 207.2,379.1 210.9,376.2 214.7,376.2 218.4,379.1 222.2,382.8 225.9,384.7 228.8,384.7 231.6,385.6 236.2,389.9 240.0,389.4 242.8,388.4 245.6,383.8 248.4,372.5 251.2,362.2 254.1,350.9 256.9,341.6 259.7,336.9 262.5,334.1 264.8,330.3 267.2,333.1 270.0,339.7 272.8,348.1 275.6,354.7 278.4,357.5 281.2,358.4 284.1,361.6 287.8,359.8 289.7,356.6 291.9,351.5 293.8,356.6 296.2,357.5 298.7,356.2 300.9,360.3 303.8,366.9 306.6,374.4 309.4,369.7 312.2,367.8 314.1,362.2 315.9,359.9 319.7,361.2 323.8,355.6 326.6,350.0 329.4,345.3 331.2,337.8 333.5,327.5 335.4,320.9 337.8,323.4 339.7,322.8 342.5,324.1 346.2,325.2 349.1,328.4 350.9,333.1 352.2,338.8 354.7,342.5 357.5,346.2 360.3,352.8 364.1,359.0 366.5,360.3 368.4,367.8 370.6,376.2 373.4,380.6 376.2,379.1 379.1,374.4 380.9,368.8 382.8,360.3 385.6,348.1 387.9,342.5 389.8,340.6 392.2,342.5 395.9,338.2 397.8,338.8 400.6,334.1 403.4,328.4 406.2,322.8 409.1,321.9 412.2,320.6 414.7,322.8 417.5,326.6 419.4,328.4 422.2,327.5 425.0,327.5 427.2,324.7 429.1,327.5 430.0,325.2 432.8,322.4 435.6,320.6 438.4,320.0 441.2,320.2 443.5,316.8 445.9,318.1 448.2,318.7 450.6,322.4 454.4,325.2 458.1,329.0 460.9,331.4 464.7,332.8 466.6,340.2 469.4,350.6 472.2,359.0 475.0,367.4 476.9,368.0 479.1,363.7 481.6,354.3 484.4,342.1 487.2,331.8 489.6,323.0 491.9,323.4 495.6,331.2 498.4,331.8 501.2,336.1 504.1,338.4 506.9,343.4 509.1,343.4 511.6,338.4 514.4,331.8 517.2,333.7 520.9,332.4 523.8,334.6 525.6,342.1 527.5,351.5 529.4,360.9 532.2,370.2 535.0,379.6 537.8,388.1 540.6,390.9 543.4,391.2" stroke="#ff9514" stroke-width="1.02" fill="none" stroke-linejoin="round" stroke-linecap="round"/>
<path d="M72.2 355.6C72.9 356.9 72.9 357.0 74.2 359.5C75.6 362.1 74.9 360.9 76.2 363.4C77.6 365.9 76.9 364.7 78.2 367.0C79.6 369.4 78.9 368.3 80.2 370.4C81.6 372.5 80.9 371.6 82.2 373.4C83.6 375.2 82.9 374.4 84.2 375.8C85.6 377.3 84.9 376.6 86.2 377.7C87.6 378.9 86.9 378.4 88.2 379.3C89.6 380.1 88.9 379.9 90.2 380.4C91.6 380.9 90.9 380.7 92.2 380.8C93.6 380.8 92.9 380.9 94.2 380.5C95.6 380.2 94.9 380.3 96.2 379.8C97.6 379.2 96.9 379.4 98.2 378.8C99.6 378.2 98.9 378.5 100.2 377.9C101.6 377.4 100.9 377.7 102.2 377.3C103.6 377.0 102.9 377.1 104.2 376.9C105.6 376.7 104.9 376.7 106.2 376.8C107.6 376.9 106.9 376.8 108.2 377.2C109.6 377.6 108.9 377.4 110.2 377.9C111.6 378.4 110.9 378.3 112.2 378.6C113.6 379.0 112.9 378.9 114.2 379.0C115.6 379.0 114.9 379.0 116.2 378.7C117.6 378.4 116.9 378.6 118.2 378.0C119.6 377.4 118.9 377.7 120.2 377.0C121.6 376.2 120.9 376.5 122.2 375.7C123.6 374.8 122.9 375.2 124.2 374.3C125.6 373.3 124.9 373.8 126.2 372.9C127.6 371.9 126.9 372.4 128.2 371.4C129.6 370.4 128.9 370.9 130.2 369.8C131.6 368.8 130.9 369.3 132.2 368.3C133.6 367.2 132.9 367.7 134.2 366.7C135.6 365.6 134.9 366.1 136.2 365.2C137.6 364.2 136.9 364.6 138.2 363.8C139.6 362.9 138.9 363.3 140.2 362.5C141.6 361.7 140.9 362.1 142.2 361.4C143.6 360.7 142.9 360.9 144.2 360.5C145.6 360.1 144.9 360.1 146.2 360.1C147.6 360.1 146.9 359.9 148.2 360.4C149.6 360.8 148.9 360.5 150.2 361.5C151.6 362.4 150.9 361.9 152.2 363.2C153.6 364.4 152.9 363.7 154.2 365.2C155.6 366.8 154.9 366.0 156.2 367.7C157.6 369.4 156.9 368.6 158.2 370.3C159.6 372.1 158.9 371.3 160.2 373.0C161.6 374.7 160.9 373.9 162.2 375.6C163.6 377.2 162.9 376.4 164.2 377.9C165.6 379.5 164.9 378.8 166.2 380.2C167.6 381.6 166.9 381.0 168.2 382.2C169.6 383.4 168.9 382.9 170.2 383.9C171.6 384.8 170.9 384.4 172.2 385.1C173.6 385.7 172.9 385.5 174.2 385.9C175.6 386.2 174.9 386.2 176.2 386.2C177.6 386.2 176.9 386.3 178.2 385.9C179.6 385.5 178.9 385.8 180.2 385.0C181.6 384.2 180.9 384.5 182.2 383.4C183.6 382.4 182.9 382.8 184.2 381.7C185.6 380.7 184.9 381.1 186.2 380.3C187.6 379.5 186.9 379.8 188.2 379.4C189.6 378.9 188.9 379.0 190.2 378.9C191.6 378.8 190.9 378.7 192.2 379.0C193.6 379.2 192.9 379.1 194.2 379.6C195.6 380.1 194.9 379.9 196.2 380.5C197.6 381.1 196.9 380.9 198.2 381.4C199.6 381.9 198.9 381.7 200.2 382.1C201.6 382.5 200.9 382.3 202.2 382.5C203.6 382.6 202.9 382.6 204.2 382.5C205.6 382.3 204.9 382.4 206.2 382.1C207.6 381.8 206.9 382.0 208.2 381.5C209.6 381.1 208.9 381.2 210.2 380.8C211.6 380.4 210.9 380.5 212.2 380.2C213.6 379.9 212.9 380.0 214.2 379.8C215.6 379.7 214.9 379.7 216.2 379.7C217.6 379.6 216.9 379.6 218.2 379.7C219.6 379.7 218.9 379.7 220.2 379.9C221.6 380.0 220.9 379.9 222.2 380.1C223.6 380.3 222.9 380.2 224.2 380.4C225.6 380.6 224.9 380.5 226.2 380.8C227.6 381.0 226.9 380.9 228.2 381.1C229.6 381.4 228.9 381.2 230.2 381.6C231.6 382.0 230.9 381.8 232.2 382.2C233.6 382.7 232.9 382.5 234.2 382.9C235.6 383.4 234.9 383.2 236.2 383.7C237.6 384.2 236.9 384.0 238.2 384.4C239.6 384.8 238.9 384.7 240.2 385.0C241.6 385.3 240.9 385.2 242.2 385.3C243.6 385.5 242.9 385.5 244.2 385.3C245.6 385.1 244.9 385.3 246.2 384.6C247.6 384.0 246.9 384.4 248.2 383.2C249.6 382.0 248.9 382.7 250.2 381.1C251.6 379.4 250.9 380.3 252.2 378.2C253.6 376.0 252.9 377.2 254.2 374.7C255.6 372.2 254.9 373.5 256.2 370.8C257.6 368.0 256.9 369.4 258.2 366.5C259.6 363.7 258.9 365.0 260.2 362.3C261.6 359.5 260.9 360.8 262.2 358.2C263.6 355.7 262.9 356.8 264.2 354.7C265.6 352.5 264.9 353.4 266.2 351.8C267.6 350.2 266.9 350.8 268.2 349.8C269.6 348.7 268.9 349.1 270.2 348.6C271.6 348.1 270.9 348.2 272.2 348.2C273.6 348.2 272.9 348.1 274.2 348.5C275.6 348.8 274.9 348.6 276.2 349.2C277.6 349.8 276.9 349.5 278.2 350.2C279.6 350.9 278.9 350.6 280.2 351.3C281.6 352.0 280.9 351.7 282.2 352.3C283.6 353.0 282.9 352.7 284.2 353.3C285.6 353.9 284.9 353.7 286.2 354.2C287.6 354.7 286.9 354.5 288.2 354.8C289.6 355.1 288.9 355.0 290.2 355.2C291.6 355.4 290.9 355.3 292.2 355.4C293.6 355.5 292.9 355.4 294.2 355.4C295.6 355.4 294.9 355.3 296.2 355.4C297.6 355.4 296.9 355.3 298.2 355.5C299.6 355.8 298.9 355.6 300.2 356.2C301.6 356.8 300.9 356.4 302.2 357.4C303.6 358.3 302.9 357.9 304.2 358.9C305.6 360.0 304.9 359.6 306.2 360.6C307.6 361.5 306.9 361.1 308.2 361.9C309.6 362.6 308.9 362.3 310.2 362.7C311.6 363.1 310.9 363.0 312.2 363.1C313.6 363.2 312.9 363.1 314.2 363.1C315.6 363.0 314.9 363.0 316.2 362.9C317.6 362.7 316.9 362.8 318.2 362.6C319.6 362.3 318.9 362.5 320.2 362.1C321.6 361.7 320.9 362.0 322.2 361.4C323.6 360.8 322.9 361.1 324.2 360.3C325.6 359.5 324.9 360.0 326.2 358.9C327.6 357.8 326.9 358.5 328.2 357.1C329.6 355.7 328.9 356.5 330.2 354.8C331.6 353.0 330.9 353.9 332.2 351.9C333.6 349.9 332.9 350.8 334.2 348.8C335.6 346.7 334.9 347.7 336.2 345.6C337.6 343.6 336.9 344.5 338.2 342.6C339.6 340.7 338.9 341.6 340.2 339.9C341.6 338.3 340.9 339.0 342.2 337.7C343.6 336.3 342.9 336.9 344.2 335.9C345.6 334.9 344.9 335.3 346.2 334.7C347.6 334.1 346.9 334.2 348.2 334.0C349.6 333.8 348.9 333.8 350.2 334.0C351.6 334.2 350.9 334.0 352.2 334.6C353.6 335.2 352.9 334.9 354.2 335.8C355.6 336.7 354.9 336.2 356.2 337.3C357.6 338.3 356.9 337.7 358.2 339.0C359.6 340.2 358.9 339.5 360.2 340.9C361.6 342.3 360.9 341.6 362.2 343.1C363.6 344.7 362.9 343.9 364.2 345.6C365.6 347.4 364.9 346.5 366.2 348.4C367.6 350.4 366.9 349.4 368.2 351.5C369.6 353.5 368.9 352.5 370.2 354.5C371.6 356.6 370.9 355.6 372.2 357.5C373.6 359.4 372.9 358.6 374.2 360.2C375.6 361.7 374.9 361.1 376.2 362.3C377.6 363.5 376.9 363.0 378.2 363.7C379.6 364.4 378.9 364.3 380.2 364.3C381.6 364.4 380.9 364.5 382.2 364.0C383.6 363.4 382.9 363.7 384.2 362.6C385.6 361.5 384.9 362.0 386.2 360.6C387.6 359.2 386.9 359.9 388.2 358.3C389.6 356.8 388.9 357.6 390.2 356.0C391.6 354.5 390.9 355.3 392.2 353.8C393.6 352.4 392.9 353.1 394.2 351.7C395.6 350.3 394.9 351.0 396.2 349.7C397.6 348.3 396.9 349.0 398.2 347.6C399.6 346.2 398.9 346.9 400.2 345.4C401.6 344.0 400.9 344.7 402.2 343.2C403.6 341.7 402.9 342.4 404.2 341.0C405.6 339.5 404.9 340.2 406.2 338.8C407.6 337.4 406.9 338.1 408.2 336.8C409.6 335.5 408.9 336.1 410.2 335.0C411.6 333.8 410.9 334.3 412.2 333.4C413.6 332.5 412.9 332.9 414.2 332.2C415.6 331.5 414.9 331.8 416.2 331.3C417.6 330.8 416.9 331.1 418.2 330.7C419.6 330.3 418.9 330.5 420.2 330.2C421.6 329.9 420.9 330.1 422.2 329.8C423.6 329.6 422.9 329.7 424.2 329.4C425.6 329.2 424.9 329.3 426.2 329.0C427.6 328.6 426.9 328.8 428.2 328.4C429.6 328.0 428.9 328.2 430.2 327.8C431.6 327.3 430.9 327.6 432.2 327.1C433.6 326.6 432.9 326.8 434.2 326.4C435.6 325.9 434.9 326.1 436.2 325.7C437.6 325.3 436.9 325.5 438.2 325.1C439.6 324.7 438.9 324.9 440.2 324.5C441.6 324.0 440.9 324.3 442.2 323.7C443.6 323.2 442.9 323.4 444.2 322.9C445.6 322.5 444.9 322.6 446.2 322.3C447.6 321.9 446.9 322.0 448.2 321.9C449.6 321.7 448.9 321.7 450.2 321.8C451.6 321.8 450.9 321.7 452.2 321.9C453.6 322.1 452.9 322.0 454.2 322.3C455.6 322.6 454.9 322.4 456.2 322.9C457.6 323.4 456.9 323.1 458.2 323.7C459.6 324.3 458.9 323.9 460.2 324.6C461.6 325.3 460.9 324.9 462.2 325.8C463.6 326.7 462.9 326.1 464.2 327.3C465.6 328.5 464.9 327.8 466.2 329.4C467.6 330.9 466.9 330.1 468.2 332.0C469.6 333.9 468.9 333.0 470.2 335.1C471.6 337.3 470.9 336.3 472.2 338.5C473.6 340.7 472.9 339.7 474.2 341.8C475.6 343.8 474.9 343.0 476.2 344.7C477.6 346.3 476.9 345.7 478.2 346.8C479.6 348.0 478.9 347.6 480.2 348.1C481.6 348.6 480.9 348.5 482.2 348.3C483.6 348.2 482.9 348.4 484.2 347.7C485.6 347.0 484.9 347.4 486.2 346.2C487.6 345.1 486.9 345.6 488.2 344.2C489.6 342.8 488.9 343.4 490.2 342.0C491.6 340.5 490.9 341.1 492.2 339.9C493.6 338.6 492.9 339.1 494.2 338.2C495.6 337.2 494.9 337.6 496.2 337.0C497.6 336.4 496.9 336.7 498.2 336.4C499.6 336.2 498.9 336.3 500.2 336.2C501.6 336.2 500.9 336.2 502.2 336.4C503.6 336.6 502.9 336.5 504.2 336.8C505.6 337.0 504.9 336.9 506.2 337.2C507.6 337.6 506.9 337.5 508.2 337.7C509.6 338.0 508.9 337.9 510.2 338.0C511.6 338.1 510.9 338.1 512.2 338.0C513.6 337.9 512.9 337.9 514.2 337.7C515.6 337.4 514.9 337.5 516.2 337.2C517.6 336.8 516.9 336.9 518.2 336.7C519.6 336.4 518.9 336.4 520.2 336.4C521.6 336.3 520.9 336.2 522.2 336.5C523.6 336.8 522.9 336.4 524.2 337.3C525.6 338.1 524.9 337.6 526.2 339.0C527.6 340.5 526.9 339.7 528.2 341.7C529.6 343.7 528.9 342.7 530.2 345.1C531.6 347.5 530.9 346.3 532.2 349.0C533.6 351.7 532.9 350.4 534.2 353.2C535.6 356.0 534.9 354.6 536.2 357.5C537.6 360.3 536.9 358.9 538.2 361.6C539.6 364.3 538.9 363.0 540.2 365.6C541.6 368.1 541.1 367.2 542.2 369.3C543.4 371.4 543.2 371.1 543.8 372.0" stroke="#163ec6" stroke-width="1.18" fill="none" stroke-linejoin="round" stroke-linecap="round"/>
</svg></body></html>
